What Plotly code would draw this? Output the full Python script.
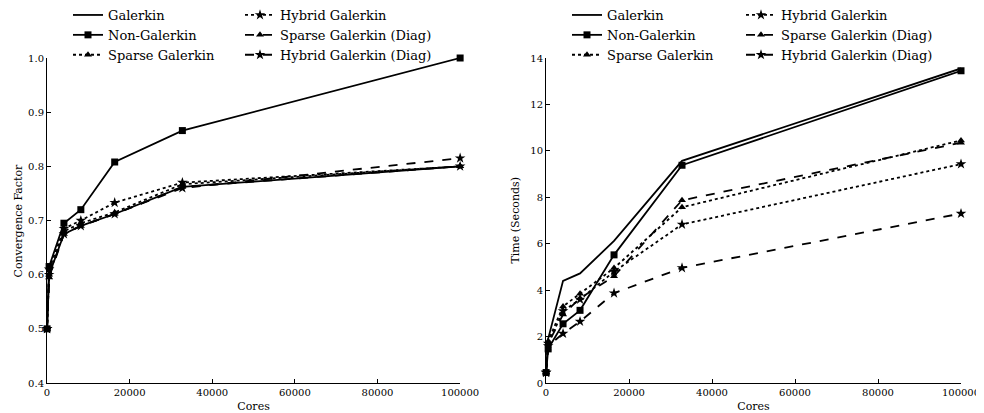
import plotly.graph_objects as go

cores = [16, 512, 4096, 8192, 16384, 32768, 100000]

series_names = ["Galerkin", "Non-Galerkin", "Sparse Galerkin",
                "Hybrid Galerkin", "Sparse Galerkin (Diag)", "Hybrid Galerkin (Diag)"]

# Convergence factor (left panel)
conv_galerkin = [0.50, 0.600, 0.675, 0.690, 0.712, 0.762, 0.800]
conv_nongalerkin = [0.50, 0.615, 0.695, 0.720, 0.808, 0.866, 1.000]
conv_sparse = [0.50, 0.600, 0.680, 0.695, 0.715, 0.767, 0.800]
conv_hybrid = [0.50, 0.610, 0.685, 0.700, 0.733, 0.770, 0.800]
conv_sparse_diag = [0.50, 0.595, 0.675, 0.690, 0.712, 0.762, 0.800]
conv_hybrid_diag = [0.50, 0.600, 0.675, 0.690, 0.712, 0.760, 0.815]

# Time in seconds (right panel)
time_galerkin = [0.45, 1.90, 4.40, 4.72, 6.12, 9.57, 13.55]
time_nongalerkin = [0.45, 1.47, 2.55, 3.13, 5.52, 9.38, 13.45]
time_sparse = [0.45, 1.80, 3.30, 3.85, 4.95, 7.57, 10.45]
time_hybrid = [0.45, 1.70, 3.10, 3.60, 4.80, 6.83, 9.43]
time_sparse_diag = [0.45, 1.70, 2.95, 3.65, 4.60, 7.87, 10.35]
time_hybrid_diag = [0.45, 1.60, 2.13, 2.65, 3.87, 4.96, 7.30]

x_ticks = [0, 20000, 40000, 60000, 80000, 100000]
x_ticktext = ["0", "20000", "40000", "60000", "80000", "100000"]
conv_ticks = [0.4, 0.5, 0.6, 0.7, 0.8, 0.9, 1.0]
time_ticks = [0, 2, 4, 6, 8, 10, 12, 14]

conv_data = [conv_galerkin, conv_nongalerkin, conv_sparse,
             conv_hybrid, conv_sparse_diag, conv_hybrid_diag]
time_data = [time_galerkin, time_nongalerkin, time_sparse,
             time_hybrid, time_sparse_diag, time_hybrid_diag]

styles = [
    dict(dash="solid", symbol=None, size=0),
    dict(dash="solid", symbol="square", size=7),
    dict(dash="dot", symbol="triangle-up", size=7),
    dict(dash="dot", symbol="star", size=8),
    dict(dash="dash", symbol="triangle-up", size=7),
    dict(dash="dash", symbol="star", size=8),
]

FONT = "DejaVu Serif"
W, H = 976, 405  # page adds an 8px body margin
ML, MR, MT, MB = 39, 23, 50, 30
PW = W - ML - MR
PH = H - MT - MB
fig = go.Figure()

for panel, data, xa, ya, legs in [
    (0, conv_data, "x", "y", ("legend", "legend2")),
    (1, time_data, "x2", "y2", ("legend3", "legend4")),
]:
    for i, (name, vals, st) in enumerate(zip(series_names, data, styles)):
        mode = "lines" if st["symbol"] is None else "lines+markers"
        kw = dict(
            x=cores, y=vals, name=name, mode=mode, xaxis=xa, yaxis=ya,
            line=dict(color="black", width=1.8, dash=st["dash"]),
            legend=legs[0] if i < 3 else legs[1],
            cliponaxis=False,
        )
        if st["symbol"] is not None:
            kw["marker"] = dict(symbol=st["symbol"], size=st["size"], color="black",
                                line=dict(width=0))
        fig.add_trace(go.Scatter(**kw))

axis_common = dict(
    showline=True, linecolor="black", linewidth=1, mirror=False, automargin=False,
    ticks="inside", ticklen=4, tickcolor="black", showgrid=False, zeroline=False,
    tickfont=dict(family=FONT, size=10, color="black"),
)
title_font = dict(family=FONT, size=11, color="black")

fig.update_layout(
    width=W, height=H,
    margin=dict(l=ML, r=MR, t=MT, b=MB, autoexpand=False),
    paper_bgcolor="white", plot_bgcolor="white",
    font=dict(family=FONT, color="black"),
    showlegend=True,
    xaxis=dict(domain=[0, 0.452], range=[0, 100000], tickvals=x_ticks, ticktext=x_ticktext,
               title=dict(text="Cores", font=title_font), **axis_common),
    yaxis=dict(range=[0.4, 1.0], tickvals=conv_ticks, tickformat=".1f", **axis_common),
    xaxis2=dict(domain=[0.546, 1.0], range=[0, 100000], anchor="y2",
                tickvals=x_ticks, ticktext=x_ticktext,
                title=dict(text="Cores", font=title_font), **axis_common),
    yaxis2=dict(range=[0, 14], anchor="x2", tickvals=time_ticks, **axis_common),
)

for text, xpx in [("Convergence Factor", 18), ("Time (Seconds)", 515)]:
    fig.add_annotation(text=text, textangle=-90, showarrow=False,
                       xref="paper", yref="paper", x=(xpx - 8 - ML) / PW, y=0.5,
                       xanchor="center", yanchor="middle", font=title_font)

leg_common = dict(bgcolor="rgba(0,0,0,0)", font=dict(family=FONT, size=13, color="black"),
                  itemwidth=30, yanchor="top", xanchor="left", xref="container",
                  yref="paper", y=1 + (MT + 8) / PH, tracegroupgap=0)
fig.update_layout(
    legend=dict(x=60 / W, **leg_common),
    legend2=dict(x=232 / W, **leg_common),
    legend3=dict(x=559 / W, **leg_common),
    legend4=dict(x=733 / W, **leg_common),
)

fig.write_html("out.html")
